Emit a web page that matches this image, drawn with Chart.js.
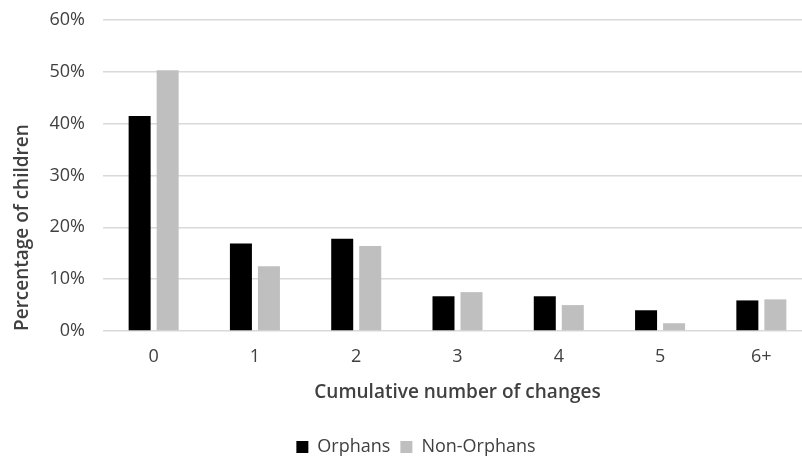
<!DOCTYPE html>
<html>
<head>
<meta charset="utf-8">
<script src="https://cdn.jsdelivr.net/npm/chart.js@4"></script>
<style>
  html, body { margin: 0; padding: 0; background: #fff; overflow: hidden; }
  #wrap { width: 802px; height: 459px; overflow: hidden; }
</style>
</head>
<body>
<div id="wrap"><canvas id="c" width="832" height="466"></canvas></div>
<script>
// Share of children by cumulative number of caregiver changes
const categories = ['0', '1', '2', '3', '4', '5', '6+'];
const orphans    = [41.5, 16.9, 17.8, 6.7, 6.7, 4.0, 5.9];
const nonOrphans = [50.3, 12.5, 16.4, 7.5, 5.0, 1.5, 6.1];
const yTicks = [0, 10, 20, 30, 40, 50, 60];

const textColor = '#404040';
const fontFamily = '"Open Sans", "Noto Sans", sans-serif';

new Chart(document.getElementById('c'), {
  type: 'bar',
  data: {
    labels: categories,
    datasets: [
      { label: 'Orphans', data: orphans, backgroundColor: '#000000', borderWidth: 0 },
      { label: 'Non-Orphans', data: nonOrphans, backgroundColor: '#bfbfbf', borderWidth: 0 }
    ]
  },
  options: {
    responsive: false,
    animation: false,
    layout: { padding: { left: 20, right: 20, top: 0, bottom: 0 } },
    datasets: { bar: { categoryPercentage: 0.553, barPercentage: 0.786 } },
    plugins: {
      tooltip: { enabled: false },
      legend: {
        position: 'bottom',
        labels: {
          color: textColor,
          font: { family: fontFamily, size: 18 },
          boxWidth: 12, boxHeight: 12,
          padding: 10
        }
      }
    },
    scales: {
      x: {
        afterFit: (scale) => { scale.height = 97; },
        grid: { display: false, drawTicks: false },
        border: { display: false },
        ticks: { color: textColor, font: { family: fontFamily, size: 18 }, padding: 15 },
        title: {
          display: true, text: 'Cumulative number of changes', color: textColor,
          font: { family: fontFamily, size: 19, weight: '600' },
          padding: { top: 12, bottom: 24 }
        }
      },
      y: {
        min: 0, max: 60,
        afterBuildTicks: (scale) => { scale.ticks = yTicks.map(v => ({ value: v })); },
        afterFit: (scale) => {
          scale.width = 83;
          scale.paddingTop = 20;
          scale.paddingBottom = 0;
        },
        grid: { color: '#d9d9d9', lineWidth: 1.5, drawTicks: false },
        border: { display: false },
        ticks: {
          color: textColor, font: { family: fontFamily, size: 18 }, padding: 18,
          callback: (v) => v + '%'
        },
        title: {
          display: true, text: 'Percentage of children', color: textColor,
          align: 'start',
          font: { family: fontFamily, size: 19, weight: '600' },
          padding: { top: -9, bottom: 0 }
        }
      }
    }
  }
});
</script>
</body>
</html>
